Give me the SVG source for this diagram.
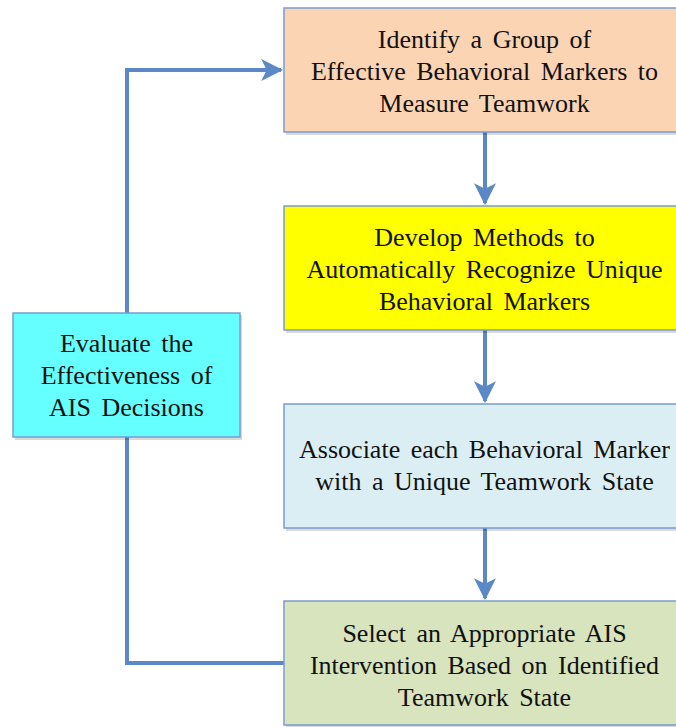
<svg xmlns="http://www.w3.org/2000/svg" width="676" height="727" viewBox="0 0 676 727">
<style>
.box{stroke:#7a9cce;stroke-width:1.5}
.sh{fill:#000;opacity:0.15}
.t{font-family:"Liberation Serif",serif;font-size:26px;fill:#111;text-anchor:middle;word-spacing:4px}
.c{fill:none;stroke:#5b88c6;stroke-width:4}
</style>
<defs>
<marker id="ah" viewBox="0 0 10 10" refX="9" refY="5" markerWidth="5.5" markerHeight="5.5" orient="auto" markerUnits="strokeWidth">
<path d="M0,0 L10,5 L0,10 L2.5,5 Z" fill="#5b88c6"/>
</marker>
</defs>
<rect width="676" height="727" fill="#fff"/>
<g id="connectors">
<path class="c" d="M485,132 L485,203" marker-end="url(#ah)"/>
<path class="c" d="M485,330 L485,401" marker-end="url(#ah)"/>
<path class="c" d="M485,528 L485,598" marker-end="url(#ah)"/>
<path class="c" d="M284,663 L127,663 L127,437"/>
<path class="c" d="M127,313 L127,70 L281,70" marker-end="url(#ah)"/>
</g>
<g id="n1">
<rect class="sh" x="286" y="10" width="400" height="125"/>
<rect class="box" x="284" y="8" width="400" height="124" fill="#fbd4b4"/>
<text class="t" x="484.5" y="48">Identify a Group of</text>
<text class="t" x="484.5" y="80">Effective Behavioral Markers to</text>
<text class="t" x="484.5" y="112">Measure Teamwork</text>
</g>
<g id="n2">
<rect class="sh" x="286" y="208" width="400" height="125"/>
<rect class="box" x="284" y="206" width="400" height="124" fill="#ffff00"/>
<text class="t" x="484.5" y="246">Develop Methods to</text>
<text class="t" x="484.5" y="278">Automatically Recognize Unique</text>
<text class="t" x="484.5" y="310">Behavioral Markers</text>
</g>
<g id="n3">
<rect class="sh" x="286" y="406" width="400" height="125"/>
<rect class="box" x="284" y="404" width="400" height="124" fill="#dbeef4"/>
<text class="t" x="484.5" y="458">Associate each Behavioral Marker</text>
<text class="t" x="484.5" y="490">with a Unique Teamwork State</text>
</g>
<g id="n4">
<rect class="sh" x="286" y="603" width="400" height="125"/>
<rect class="box" x="284" y="601" width="400" height="124" fill="#d7e4bd"/>
<text class="t" x="484.5" y="642">Select an Appropriate AIS</text>
<text class="t" x="484.5" y="674">Intervention Based on Identified</text>
<text class="t" x="484.5" y="706">Teamwork State</text>
</g>
<g id="n5">
<rect class="sh" x="15" y="315" width="227" height="125"/>
<rect class="box" x="13" y="313" width="227" height="124" fill="#66ffff"/>
<text class="t" x="126.5" y="352">Evaluate the</text>
<text class="t" x="126.5" y="384">Effectiveness of</text>
<text class="t" x="126.5" y="416">AIS Decisions</text>
</g>
</svg>
